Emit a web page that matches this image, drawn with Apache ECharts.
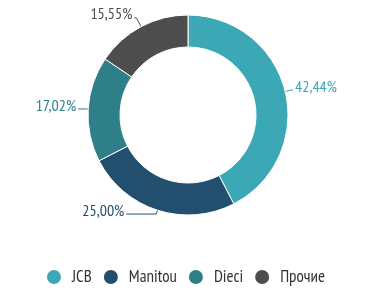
<!DOCTYPE html>
<html><head><meta charset="utf-8">
<script src="https://cdn.jsdelivr.net/npm/echarts@6/dist/echarts.min.js"></script>
<style>html,body{margin:0;padding:0;background:#fff}#c{width:370px;height:301px}</style>
</head><body><div id="c"></div>
<script>
const categories = ['JCB', 'Manitou', 'Dieci', 'Прочие'];
const values = [42.44, 25.00, 17.02, 15.55];
const colors = ['#3ca7b5', '#234f6e', '#2e7f87', '#4d4d4d'];
const lineLen = [[6, 2], [4, 30], [2, 8], [10, 2]];
const FONT = '"PT Sans Narrow", "Roboto Condensed", sans-serif';
const chart = echarts.init(document.getElementById('c'));
chart.setOption({
  animation: false,
  color: colors,
  legend: {
    bottom: 10, left: 'center', icon: 'circle', itemWidth: 16, itemHeight: 16, itemGap: 10,
    textStyle: { fontFamily: FONT, fontSize: 17, color: '#333', padding: [0, 0, 0, 5] },
    data: categories
  },
  series: [{
    type: 'pie', center: [188, 115], radius: [68, 100], startAngle: 90, clockwise: true,
    itemStyle: { borderColor: '#fff', borderWidth: 1 },
    label: {
      show: true, fontFamily: FONT, fontSize: 16, distanceToLabelLine: 2,
      formatter: p => p.value.toFixed(2).replace('.', ',') + '%'
    },
    labelLine: { show: true, lineStyle: { width: 1 } },
    labelLayout: { dy: -3 },
    data: categories.map((n, i) => ({
      name: n, value: values[i],
      label: { color: colors[i] },
      labelLine: { length: lineLen[i][0], length2: lineLen[i][1] }
    }))
  }]
});
</script></body></html>
